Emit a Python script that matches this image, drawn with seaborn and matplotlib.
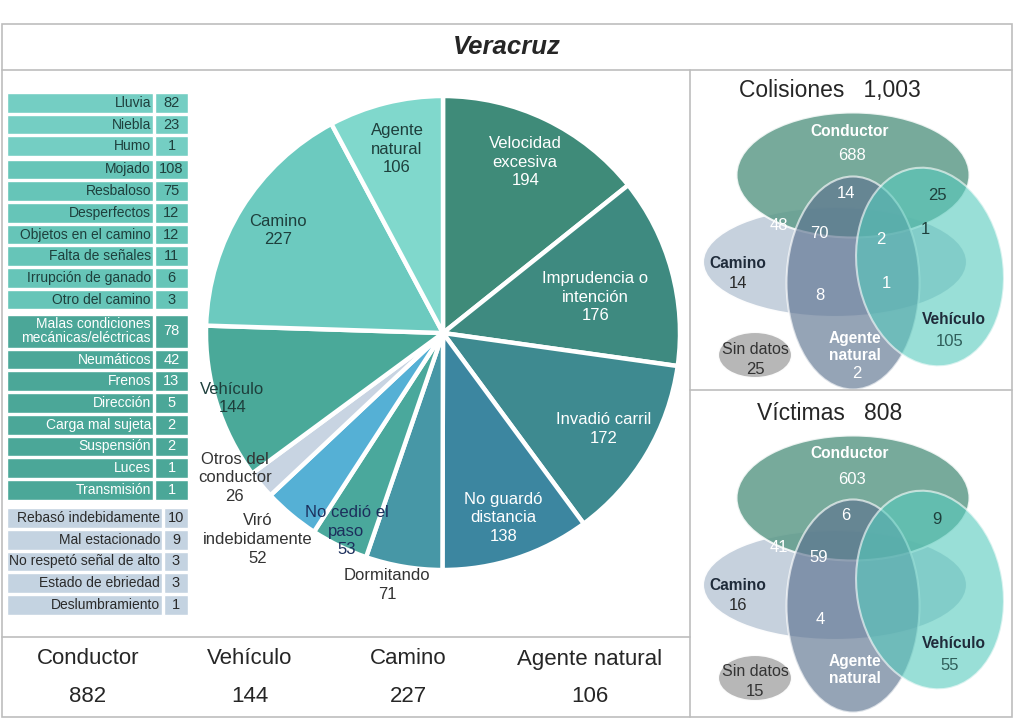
import numpy as np
import seaborn as sns
import matplotlib.pyplot as plt
from matplotlib.patches import Ellipse, Rectangle
from matplotlib import font_manager

# ---- data ----
pie_labels = ['Velocidad\nexcesiva', 'Imprudencia o\nintención', 'Invadió carril',
              'No guardó\ndistancia', 'Dormitando', 'No cedió el\npaso',
              'Viró\nindebidamente', 'Otros del\nconductor', 'Vehículo', 'Camino',
              'Agente\nnatural']
pie_values = [194, 176, 172, 138, 71, 53, 52, 26, 144, 227, 106]

natural_labels = ['Lluvia', 'Niebla', 'Humo']
natural_values = [82, 23, 1]
camino_labels = ['Mojado', 'Resbaloso', 'Desperfectos', 'Objetos en el camino',
                 'Falta de señales', 'Irrupción de ganado', 'Otro del camino']
camino_values = [108, 75, 12, 12, 11, 6, 3]
vehiculo_labels = ['Malas condiciones\nmecánicas/eléctricas', 'Neumáticos', 'Frenos',
                   'Dirección', 'Carga mal sujeta', 'Suspensión', 'Luces', 'Transmisión']
vehiculo_values = [78, 42, 13, 5, 2, 2, 1, 1]
otros_labels = ['Rebasó indebidamente', 'Mal estacionado', 'No respetó señal de alto',
                'Estado de ebriedad', 'Deslumbramiento']
otros_values = [10, 9, 3, 3, 1]

summary_labels = ['Conductor', 'Vehículo', 'Camino', 'Agente natural']
summary_values = [882, 144, 227, 106]

venn_titles = ['Colisiones   1,003', 'Víctimas   808']
venn_regions = ['conductor', 'cond_ag', 'cond_veh', 'cond_cam', 'cond_cam_ag',
                'cond_ag_veh', 'cond_veh_cam', 'camino', 'cam_ag', 'cam_ag_veh',
                'vehiculo', 'agente', 'sin_datos']
colisiones_values = [688, 14, 25, 48, 70, 2, 1, 14, 8, 1, 105, 2, 25]
victimas_values = [603, 6, 9, 41, 59, None, None, 16, 4, None, 55, None, 15]

# ---- style ----
sns.set_theme(style='white')
plt.rcParams['font.family'] = ['Liberation Sans', 'DejaVu Sans']
names = {f.name for f in font_manager.fontManager.ttflist}
narrow = 'Liberation Sans Narrow' in names
pie_font = ['Liberation Sans Narrow', 'Liberation Sans'] if narrow else ['Liberation Sans']
pie_fs = 13.5 if narrow else 12

pie_colors = sns.color_palette(['#3f8b79', '#3e8a80', '#3e8a90', '#3c86a0', '#4797a6',
                                '#4aa89c', '#55b0d5', '#c8d4e2', '#4aa999', '#6ccabf',
                                '#80d8cc'])
pie_text = ['white', 'white', 'white', 'white', '#333333', '#1c2f5c', '#333333',
            '#333333', '#1e3f3c', '#1e3f3c', '#1e3f3c']
label_r = [0.80, 0.66, 0.79, 0.82, 1.09, 0.93, 1.17, 1.07, 0.93, 0.82, 0.80]
label_da = [0, -2, 0, 0, -3, 0, -2, -5, 0, 0, 0]

fig = plt.figure(figsize=(10.2, 7.21), dpi=100)
canvas = fig.add_axes([0, 0, 1, 1])
canvas.set_xlim(0, 1020)
canvas.set_ylim(721, 0)
canvas.axis('off')

# frame
line_c = '#bdbdbd'
canvas.add_patch(Rectangle((2, 24), 1010, 693, fill=False, ec=line_c, lw=1.2))
canvas.plot([2, 1012], [70, 70], color=line_c, lw=1.2)
canvas.plot([690, 690], [70, 717], color=line_c, lw=1.2)
canvas.plot([690, 1012], [390, 390], color=line_c, lw=1.2)
canvas.plot([2, 690], [637, 637], color=line_c, lw=1.2)
canvas.text(507, 47, 'Veracruz', ha='center', va='center', fontsize=18.5,
            fontweight='bold', fontstyle='italic')

# ---- pie ----
cx, cy, R = 443, 333, 237
pax = fig.add_axes([(cx - R) / 1020, 1 - (cy + R) / 721, 2 * R / 1020, 2 * R / 721])
wedges, _ = pax.pie(pie_values, colors=pie_colors, startangle=90, counterclock=False,
                    wedgeprops=dict(edgecolor='white', linewidth=3.2))
pax.set_xlim(-1, 1)
pax.set_ylim(-1, 1)
for w, lab, val, tc, r, da in zip(wedges, pie_labels, pie_values, pie_text, label_r, label_da):
    ang = np.deg2rad((w.theta1 + w.theta2) / 2 + da)
    pax.text(r * np.cos(ang), r * np.sin(ang), f'{lab}\n{val}', ha='center', va='center',
             color=tc, fontsize=pie_fs, family=pie_font, linespacing=1.3)

# ---- left table ----
pitch = 21.7
groups = [
    (natural_labels, natural_values, '#74cec3', '#1e3f3c', 146, 0),
    (camino_labels, camino_values, '#66c5b8', '#1e3f3c', 146, 1.5),
    (vehiculo_labels, vehiculo_values, '#4ba798', 'white', 146, 3.5),
    (otros_labels, otros_values, '#c4d3e1', '#2a2a2a', 155, 6.5),
]
top = 92
for labels, values, col, tcol, lw_, gap in groups:
    top += gap
    for lab, val in zip(labels, values):
        h = pitch * (1.6 if '\n' in lab else 1.0)
        yc = top + h / 2
        canvas.barh(yc, lw_, left=7, height=h - 2, color=col)
        canvas.barh(yc, 188 - (9 + lw_), left=9 + lw_, height=h - 2, color=col)
        canvas.text(5 + lw_, yc, lab, ha='right', va='center', fontsize=10,
                    color=tcol, linespacing=1.0)
        canvas.text((9 + lw_ + 188) / 2, yc, str(val), ha='center', va='center',
                    fontsize=10.5, color=tcol)
        top += h

# ---- bottom summary ----
for x, lab, val in zip([88, 250, 408, 590], summary_labels, summary_values):
    canvas.text(x, 659, lab, ha='center', va='center', fontsize=16)
    canvas.text(x, 697, str(val), ha='center', va='center', fontsize=16)

# ---- venn panels ----
ellipses = [  # (name, cx, cy, w, h, angle, color, alpha)
    ('camino', 145, 192, 264, 110, 0, '#c3cfdc', 0.95),
    ('conductor', 163, 105, 233, 125, 0, '#5f9b8a', 0.85),
    ('agente', 163, 213, 133, 213, 0, '#5d7390', 0.65),
    ('vehiculo', 240, 197, 146, 200, -10, '#56cbbd', 0.6),
    ('sin', 65, 285, 74, 46, 0, '#b3b3b3', 0.95),
]
num_pos = {
    'conductor': (162, 86, 'white'), 'cond_ag': (156, 123, 'white'),
    'cond_veh': (247, 126, '#1e3f3c'), 'cond_cam': (89, 155, 'white'),
    'cond_cam_ag': (129, 164, 'white'), 'cond_ag_veh': (191, 169, 'white'),
    'cond_veh_cam': (235, 159, '#1e3f3c'), 'camino': (48, 213, '#2a2a2a'),
    'cam_ag': (130, 226, 'white'), 'cam_ag_veh': (196, 213, 'white'),
    'vehiculo': (260, 272, '#2f5e5a'), 'agente': (167, 303, 'white'),
    'sin_datos': (65, 299, '#333333'),
}
names_pos = [('Conductor', 160, 61, 'white'), ('Camino', 48, 193, '#1f2b3a'),
             ('Vehículo', 264, 250, '#1f2b3a'), ('Agente\nnatural', 165, 277, 'white')]

for k, (title, vals) in enumerate(zip(venn_titles, [colisiones_values, victimas_values])):
    ox, oy = 690, 70 + 323 * k
    for name, ex, ey, ew, eh, ang, col, a in ellipses:
        canvas.add_patch(Ellipse((ox + ex, oy + ey), ew, eh, angle=ang, fc=col, alpha=a,
                                 ec='white', lw=1.5))
    canvas.text(ox + 140, oy + 20, title, ha='center', va='center', fontsize=16.5)
    for lab, x, y, c in names_pos:
        canvas.text(ox + x, oy + y, lab, ha='center', va='center', fontsize=11.2,
                    fontweight='bold', color=c, linespacing=1.1)
    canvas.text(ox + 65, oy + 279, 'Sin datos', ha='center', va='center',
                fontsize=11.5, color='#333333')
    for reg, v in zip(venn_regions, vals):
        if v is None:
            continue
        x, y, c = num_pos[reg]
        canvas.text(ox + x, oy + y, str(v), ha='center', va='center', fontsize=12,
                    color=c)

fig.savefig('out.png', dpi=100)
